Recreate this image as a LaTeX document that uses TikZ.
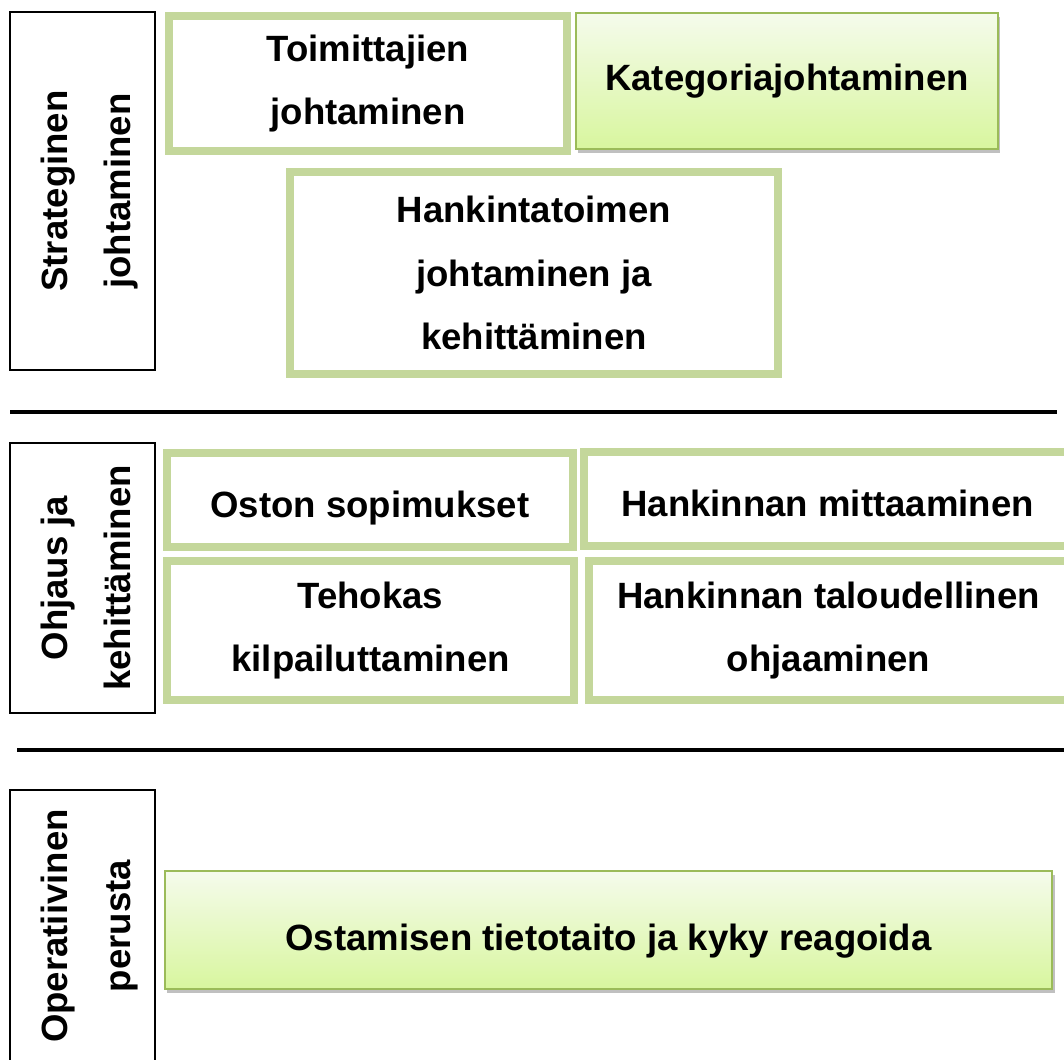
\documentclass[tikz,border=0pt]{standalone}
\usepackage{fontspec}
\setmainfont{Liberation Sans}
\usetikzlibrary{shadows}

\definecolor{paleborder}{RGB}{196,215,155}
\definecolor{oliveborder}{RGB}{155,187,89}
\definecolor{gradtop}{RGB}{245,251,236}
\definecolor{gradbottom}{RGB}{216,246,158}

\begin{document}
\begin{tikzpicture}[x=0.025cm, y=-0.025cm,
    txt/.style={font=\fontsize{26}{45}\selectfont\bfseries, align=center, inner sep=2pt},
    oneline/.style={text height=#1, text depth=5.5pt},
    palebox/.style={txt, draw=paleborder, line width=0.2cm, fill=white},
    gradbox/.style={txt, draw=oliveborder, line width=0.05cm, top color=gradtop, bottom color=gradbottom,
        drop shadow={shadow xshift=0.06cm, shadow yshift=-0.1cm, fill=black!55, opacity=0.45}},
    sidebox/.style={txt, draw=black, line width=0.04cm, rotate=90, minimum height=3.625cm,
        text height=74pt, text depth=5.5pt},
    rule/.style={line width=0.1cm}]
    \useasboundingbox (0,0) rectangle (1064,1059);

    % strateginen johtaminen
    \node[sidebox, minimum width=8.95cm] (strat) at (82.5,191) {Strateginen\\johtaminen};
    \node[palebox, minimum width=9.95cm, minimum height=3.375cm] (toim) at (368,83.5) {Toimittajien\\johtaminen};
    \node[gradbox, minimum width=10.55cm, minimum height=3.4cm] (kat) at (787,81) {Kategoriajohtaminen};
    \node[palebox, minimum width=12.2cm, minimum height=5.05cm] (hank) at (534,273) {Hankintatoimen\\johtaminen ja\\kehittäminen};

    \draw[rule] (10,412) -- (1057,412);

    % ohjaus ja kehittaminen
    \node[sidebox, minimum width=6.75cm] (ohj) at (82.5,578) {Ohjaus ja\\kehittäminen};
    \node[palebox, oneline=30pt, minimum width=10.15cm, minimum height=2.35cm] (oston) at (370,500) {Oston sopimukset};
    \node[palebox, oneline=30pt, minimum width=12.175cm, minimum height=2.35cm] (mitt) at (827.5,499) {Hankinnan mittaaminen};
    \node[palebox, minimum width=10.175cm, minimum height=3.475cm] (teho) at (370.5,630.5) {Tehokas\\kilpailuttaminen};
    \node[palebox, minimum width=11.975cm, minimum height=3.475cm] (talous) at (828.5,630.5) {Hankinnan taloudellinen\\ohjaaminen};

    \draw[rule] (17,750) -- (1064,750);

    % operatiivinen perusta
    \node[sidebox, minimum width=6.8cm] (oper) at (82.5,926) {Operatiivinen\\perusta};
    \node[gradbox, oneline=35pt, minimum width=22.175cm, minimum height=2.95cm] (osto) at (608.5,930) {Ostamisen tietotaito ja kyky reagoida};
\end{tikzpicture}
\end{document}
